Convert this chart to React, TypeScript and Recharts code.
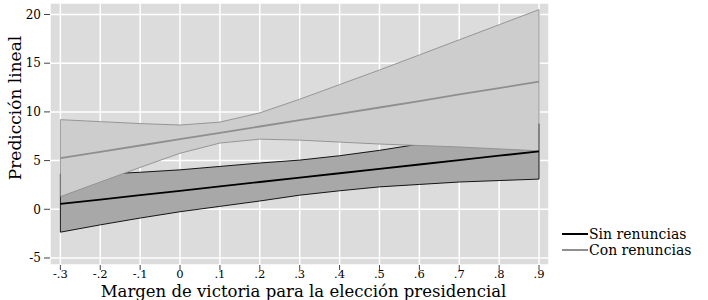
import { ComposedChart, Area, Line, XAxis, YAxis, CartesianGrid, Label } from 'recharts'

const xs = [-0.3, -0.2, -0.1, 0, 0.1, 0.2, 0.3, 0.4, 0.5, 0.6, 0.7, 0.8, 0.9]

// Sin renuncias: prediccion y IC
const sinFit = [0.55, 1.0, 1.45, 1.9, 2.35, 2.8, 3.25, 3.7, 4.15, 4.6, 5.05, 5.5, 5.95]
const sinLo = [-2.35, -1.6, -0.9, -0.25, 0.3, 0.85, 1.45, 1.9, 2.3, 2.55, 2.8, 2.95, 3.1]
const sinHi = [3.65, 3.6, 3.8, 4.05, 4.4, 4.75, 5.05, 5.5, 6.05, 6.7, 7.3, 8.05, 8.8]

// Con renuncias
const conFit = [5.25, 5.9, 6.55, 7.2, 7.85, 8.5, 9.15, 9.8, 10.45, 11.1, 11.8, 12.45, 13.1]
const conLo = [1.3, 2.8, 4.3, 5.75, 6.8, 7.2, 7.1, 6.9, 6.7, 6.55, 6.4, 6.2, 6.0]
const conHi = [9.2, 9.0, 8.8, 8.65, 8.95, 9.9, 11.3, 12.8, 14.3, 15.85, 17.4, 18.95, 20.5]

const yTicks = [-5, 0, 5, 10, 15, 20]

const series = [
  { name: 'Sin renuncias', color: '#000000' },
  { name: 'Con renuncias', color: '#8f8f8f' },
]

const data = xs.map((x, i) => ({
  x,
  sinFit: sinFit[i],
  sinBand: [sinLo[i], sinHi[i]],
  conFit: conFit[i],
  conBand: [conLo[i], conHi[i]],
}))

const last = xs.length - 1
const edge = (lo: number[], hi: number[], i: number) => [
  { x: xs[i], y: lo[i] },
  { x: xs[i], y: hi[i] },
]

const FONT = '"DejaVu Serif", serif'

const fmtX = (v: number) => {
  if (Math.abs(v) < 1e-9) return '0'
  return v.toFixed(1).replace('0.', '.')
}

const YTitle = () => (
  <text
    x={15}
    y={108}
    transform="rotate(-90 15 108)"
    textAnchor="middle"
    dominantBaseline="central"
    fontFamily={FONT}
    fontSize={17}
    fill="#000"
  >
    Predicción lineal
  </text>
)

export default function App() {
  return (
    <div style={{ position: 'absolute', left: 0, top: 0, width: 708, height: 300 }}>
      <ComposedChart width={708} height={300} data={data} margin={{ top: 3, right: 159, bottom: 0, left: 0 }}>
        <CartesianGrid fill="#dcdcdc" stroke="#ffffff" strokeWidth={1.5} />
        <XAxis
          dataKey="x"
          type="number"
          domain={[-0.326, 0.925]}
          ticks={xs}
          tickFormatter={fmtX}
          allowDataOverflow
          axisLine={false}
          tickLine={{ stroke: '#444' }}
          tickSize={5}
          tickMargin={0}
          height={35}
          tick={{ fontFamily: FONT, fontSize: 11.5, fill: '#000' }}
        >
          <Label
            value="Margen de victoria para la elección presidencial"
            position="insideBottom"
            offset={3}
            dx={4}
            style={{ fontFamily: FONT, fontSize: 16.5, fill: '#000' }}
          />
        </XAxis>
        <YAxis
          type="number"
          domain={[-5.72, 21.18]}
          ticks={yTicks}
          allowDataOverflow
          axisLine={false}
          tickLine={{ stroke: '#444' }}
          tickSize={6}
          tickMargin={3}
          width={50}
          tick={{ fontFamily: FONT, fontSize: 12, fill: '#000' }}
        >
          <Label content={YTitle} />
        </YAxis>
        <Area dataKey="sinBand" type="linear" fill="#a8a8a8" fillOpacity={1} stroke="#000" strokeWidth={0.9} isAnimationActive={false} />
        <Line data={edge(sinLo, sinHi, 0)} dataKey="y" stroke="#000" strokeWidth={0.9} dot={false} activeDot={false} isAnimationActive={false} />
        <Line data={edge(sinLo, sinHi, last)} dataKey="y" stroke="#000" strokeWidth={0.9} dot={false} activeDot={false} isAnimationActive={false} />
        <Area dataKey="conBand" type="linear" fill="#cdcdcd" fillOpacity={1} stroke="#8f8f8f" strokeWidth={0.9} isAnimationActive={false} />
        <Line data={edge(conLo, conHi, 0)} dataKey="y" stroke="#8f8f8f" strokeWidth={0.9} dot={false} activeDot={false} isAnimationActive={false} />
        <Line data={edge(conLo, conHi, last)} dataKey="y" stroke="#8f8f8f" strokeWidth={0.9} dot={false} activeDot={false} isAnimationActive={false} />
        <Line dataKey="sinFit" name={series[0].name} type="linear" stroke={series[0].color} strokeWidth={1.8} dot={false} activeDot={false} isAnimationActive={false} />
        <Line dataKey="conFit" name={series[1].name} type="linear" stroke={series[1].color} strokeWidth={1.8} dot={false} activeDot={false} isAnimationActive={false} />
      </ComposedChart>
      {/* leyenda a la derecha, abajo */}
      <div style={{ position: 'absolute', left: 562, top: 226, fontFamily: FONT, fontSize: 14, lineHeight: '16px' }}>
        {series.map(s => (
          <div key={s.name} style={{ display: 'flex', alignItems: 'center', height: 16 }}>
            <span style={{ display: 'inline-block', width: 26, height: 0, borderTop: `2px solid ${s.color}` }} />
            <span style={{ marginLeft: 1, whiteSpace: 'nowrap' }}>{s.name}</span>
          </div>
        ))}
      </div>
    </div>
  )
}
